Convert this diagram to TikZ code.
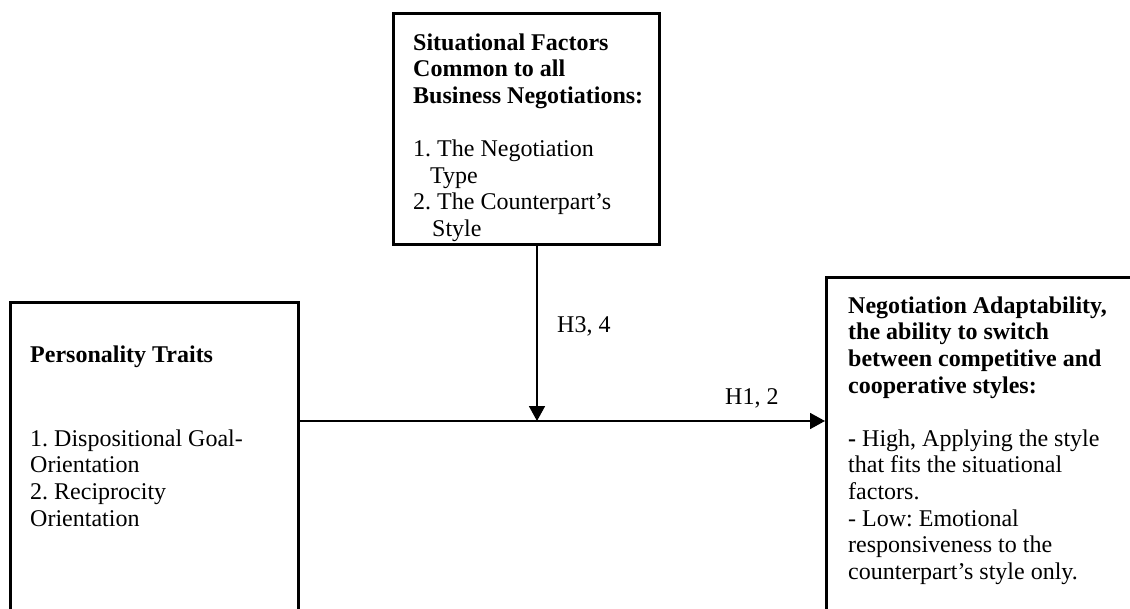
\documentclass[tikz,border=0pt]{standalone}
\usepackage{fontspec}
\setmainfont{Liberation Serif}
\usetikzlibrary{arrows.meta}
\frenchspacing
\begin{document}
\begin{tikzpicture}[x=1pt,y=-1pt,
  box/.style={draw, line width=2.6pt, fill=none},
  txt/.style={anchor=north west, inner sep=0pt, align=left, font=\fontsize{24}{26.6}\selectfont},
  conn/.style={line width=1.7pt, -{Triangle[length=15pt,width=16pt]}},
  lbl/.style={anchor=base west, inner sep=0pt, font=\fontsize{24}{26.6}\selectfont}]
\useasboundingbox (0,0) rectangle (1130,608);
\clip (0,0) rectangle (1130,608);
% boxes
\node[box, minimum width=266pt, minimum height=231pt, anchor=north west] (sit) at (392,12) {};
\node[box, minimum width=288pt, minimum height=399pt, anchor=north west] (pers) at (9,301) {};
\node[box, minimum width=400pt, minimum height=400pt, anchor=north west] (adapt) at (825,276) {};
% texts
\node[txt] (sittext) at (413,31.4) {\strut\textbf{Situational Factors}\\
\textbf{Common to all}\\
\textbf{Business Negotiations:}\\
\mbox{}\\
1. The Negotiation\\
\hspace*{17pt}Type\\
2. The Counterpart’s\\
\hspace*{19pt}Style};
\node[txt] (perstitle) at (30,343.4) {\strut\textbf{Personality Traits}};
\node[txt] (perslist) at (30,427.4) {\strut 1. Dispositional Goal-\\
Orientation\\
2. Reciprocity\\
Orientation};
\node[txt] (adapttext) at (848,294.4) {\strut\textbf{Negotiation Adaptability,}\\
\textbf{the ability to switch}\\
\textbf{between competitive and}\\
\textbf{cooperative styles:}\\
\mbox{}\\
\textbf{-} High, Applying the style\\
that fits the situational\\
factors.\\
- Low: Emotional\\
responsiveness to the\\
counterpart’s style only.};
% connectors
\coordinate (j) at (537,421);
\draw[conn] (pers.east |- j) -- (adapt.west |- j);
\draw[conn] (sit.south -| j) -- (j);
% labels
\node[lbl] (h34) at (557,332) {H3, 4};
\node[lbl] (h12) at (725,404) {H1, 2};
\end{tikzpicture}
\end{document}
